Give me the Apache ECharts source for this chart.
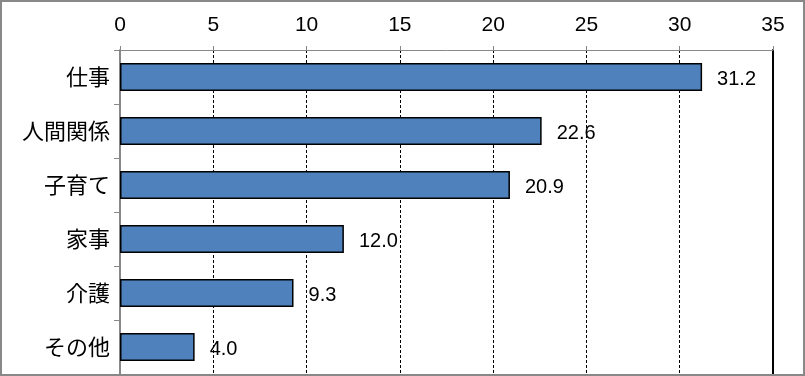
<!DOCTYPE html>
<html><head><meta charset="utf-8">
<script src="https://cdn.jsdelivr.net/npm/echarts@6/dist/echarts.min.js"></script>
<style>html,body{margin:0;padding:0;background:#fff}#c{width:805px;height:376px;box-sizing:border-box;border:2px solid #888}</style>
</head><body><div id="c"></div>
<script>
const categories = ['仕事','人間関係','子育て','家事','介護','その他'];
const values = [31.2, 22.6, 20.9, 12.0, 9.3, 4.0];
const xTicks = [0,5,10,15,20,25,30,35];

const chart = echarts.init(document.getElementById('c'), null, {renderer:'canvas'});
chart.setOption({
  animation:false,
  grid:{left:118, right:30, top:48, bottom:-2},
  xAxis:{type:'value', position:'top', min:0, max:35, interval:5,
    axisLine:{show:true, lineStyle:{color:'#888', width:1}},
    axisTick:{show:true, length:4, lineStyle:{color:'#888'}},
    axisLabel:{fontFamily:'Liberation Sans, Arial', fontSize:21, color:'#000', margin:14,
      formatter:v=>String(v)},
    splitLine:{show:true, lineStyle:{color:'#000', type:[3,2], width:1}}
  },
  yAxis:[{type:'category', data:categories, inverse:true,
    axisLine:{show:true, lineStyle:{color:'#888', width:2}},
    axisTick:{show:true, length:6, lineStyle:{color:'#888'}},
    axisLabel:{fontFamily:'Noto Sans CJK JP', fontSize:22, color:'#000', margin:10}
  },{type:'category', data:categories, inverse:true, position:'right',
    axisLine:{show:true, onZero:false, lineStyle:{color:'#000', width:2}},
    axisTick:{show:false}, axisLabel:{show:false}
  }],
  series:[{type:'bar', data:values, barWidth:28,
    itemStyle:{color:'#4F81BD', borderColor:'#000', borderWidth:1.5},
    label:{show:true, position:'right', distance:15, offset:[0,2], color:'#000',
      fontFamily:'Liberation Sans, Arial', fontSize:20,
      formatter:p=>p.value.toFixed(1)}
  }]
});
</script></body></html>
